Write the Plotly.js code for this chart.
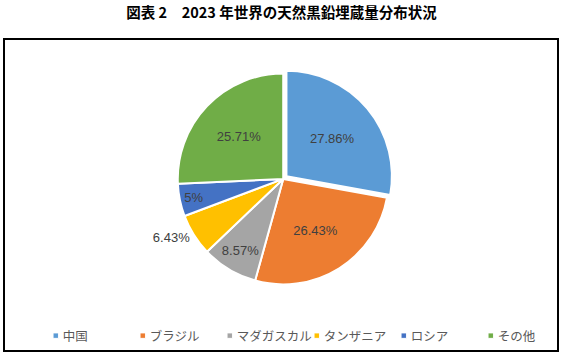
<!DOCTYPE html>
<html>
<head>
<meta charset="utf-8">
<script src="https://cdn.plot.ly/plotly-3.0.1.min.js"></script>
<style>
html,body{margin:0;padding:0;background:#fff;}
#chart{width:563px;height:355px;}
#chart .legend path.legendpie{transform:translate(33px,0px) scale(0.45);}
</style>
</head>
<body>
<div id="chart"></div>
<script>
const categories = ['中国', 'ブラジル', 'マダガスカル', 'タンザニア', 'ロシア', 'その他'];
const shares = [27.86, 26.43, 8.57, 6.43, 5, 25.71];
const colors = ['#5B9BD5', '#ED7D31', '#A5A5A5', '#FFC000', '#4472C4', '#70AD47'];
const pulls = [0.04, 0, 0, 0, 0, 0];
const textPositions = ['inside', 'inside', 'inside', 'outside', 'inside', 'inside'];

const trace = {
  type: 'pie',
  labels: categories,
  values: shares,
  sort: false,
  direction: 'clockwise',
  rotation: 0,
  pull: pulls,
  marker: {colors: colors, line: {color: '#ffffff', width: 2}},
  texttemplate: '%{value}%',
  textposition: textPositions,
  insidetextorientation: 'horizontal',
  textfont: {family: 'Liberation Sans, Arial, sans-serif', size: 13, color: '#404040'},
  hoverinfo: 'none',
  domain: {x: [0.306, 0.702], y: [0.2, 0.903]}
};

const layout = {
  width: 563,
  height: 355,
  margin: {l: 4, r: 5, t: 39, b: 4, autoexpand: false},
  paper_bgcolor: '#ffffff',
  plot_bgcolor: '#ffffff',
  showlegend: true,
  title: {
    text: '<b>図表 2　2023 年世界の天然黒鉛埋蔵量分布状況</b>',
    font: {family: 'Noto Sans CJK JP, sans-serif', size: 14.5, color: '#000000'},
    x: 0.5, xanchor: 'center', xref: 'container',
    y: 0.963, yanchor: 'middle', yref: 'container'
  },
  legend: {
    orientation: 'h',
    x: 0.505, xanchor: 'center',
    y: 0.048, yanchor: 'middle',
    bgcolor: 'rgba(0,0,0,0)',
    font: {family: 'Noto Sans CJK JP, sans-serif', size: 12.5, color: '#595959'},
    itemwidth: 30,
    entrywidth: 42,
    entrywidthmode: 'pixels',
    itemclick: false,
    tracegroupgap: 0
  },
  shapes: [{
    type: 'rect', xref: 'paper', yref: 'paper',
    x0: 0, x1: 1, y0: 0, y1: 1,
    line: {color: '#000000', width: 2}
  }]
};

Plotly.newPlot('chart', [trace], layout, {displayModeBar: false, staticPlot: true});
</script>
</body>
</html>
